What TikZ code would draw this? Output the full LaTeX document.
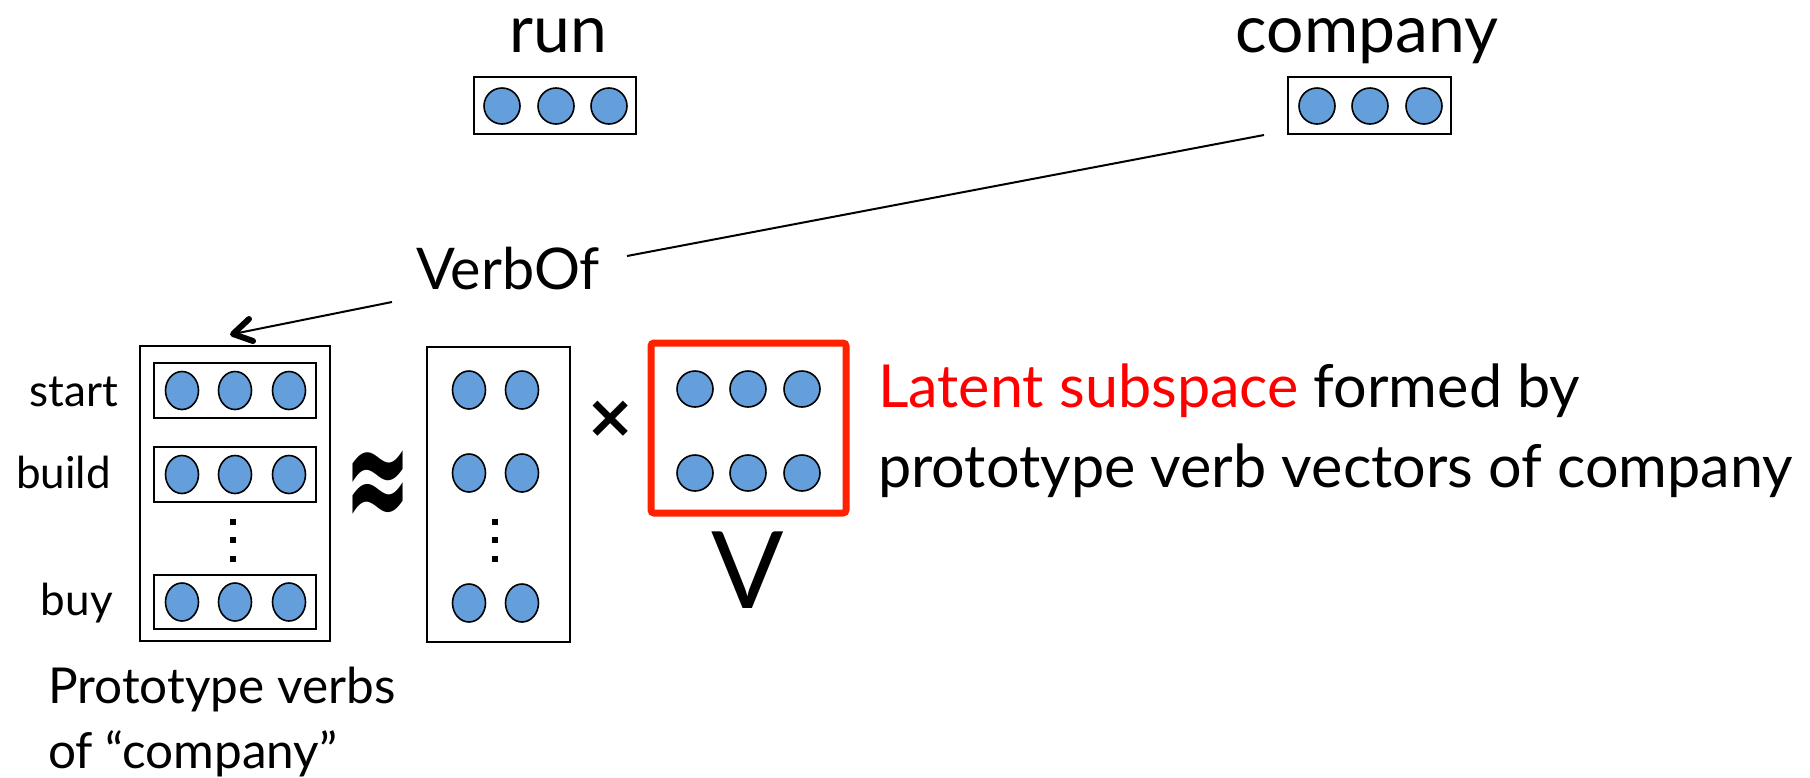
\documentclass[tikz,border=0pt]{standalone}
\usepackage{fontspec}
\setmainfont{Lato}
\newfontfamily\dvbold{DejaVu Sans}[BoldFont=* Bold]
\usetikzlibrary{arrows.meta,shapes.geometric,calc}
\definecolor{dotblue}{HTML}{649FDC}
\definecolor{boxred}{HTML}{FF2200}
\definecolor{txtred}{HTML}{FF0000}
\begin{document}
\begin{tikzpicture}[x=1pt,y=-1pt,
  vbox/.style={draw=black,line width=2pt,inner sep=0pt},
  rdot/.style={circle,draw=black,line width=1.6pt,fill=dotblue,minimum size=36pt,inner sep=0pt},
  edot/.style={ellipse,draw=black,line width=1.6pt,fill=dotblue,minimum width=33pt,minimum height=38pt,inner sep=0pt},
  sqdot/.style={fill=black,minimum size=6pt,inner sep=0pt},
  conn/.style={line width=2pt},
  barb/.style={line width=6pt,line cap=round,line join=round},
  bigtxt/.style={inner sep=0pt,font=\fontsize{66}{72}\selectfont},
  verbtxt/.style={inner sep=0pt,font=\fontsize{57.5}{64}\selectfont},
  midtxt/.style={inner sep=0pt,font=\fontsize{59.3}{66}\selectfont},
  lbltxt/.style={inner sep=0pt,font=\fontsize{44}{50}\selectfont},
  prototxt/.style={inner sep=0pt,font=\fontsize{49.5}{56}\selectfont},
]
\useasboundingbox (0,0) rectangle (1810,777);

% top words
\node[bigtxt,anchor=base] (run) at (558,52) {run};
\node[vbox,minimum width=162pt,minimum height=57pt] (runbox) at (555,105.5) {};
\foreach \x [count=\i] in {502,556,609} \node[rdot] (runc\i) at (\x,106) {};

\node[bigtxt,anchor=base] (company) at (1367,52) {company};
\node[vbox,minimum width=163pt,minimum height=57pt] (compbox) at (1369.5,105.5) {};
\foreach \x [count=\i] in {1317,1370,1424} \node[rdot] (compc\i) at (\x,106) {};

% VerbOf
\node[verbtxt,anchor=base] (verbof) at (508,289) {VerbOf};
\coordinate (vo-out) at (627,256);
\coordinate (co-in) at (1264,135);
\draw[conn] (vo-out) -- (co-in);

% prototype matrix
\node[vbox,minimum width=190pt,minimum height=295pt] (pbox) at (235,493.5) {};
\node[vbox,minimum width=162pt,minimum height=55pt] (startbox) at (235,390.5) {};
\node[vbox,minimum width=162pt,minimum height=55pt] (buildbox) at (235,474.5) {};
\node[vbox,minimum width=162pt,minimum height=54pt] (buybox) at (235,602) {};
\foreach \x [count=\i] in {182,235,289} {
  \node[edot] (sc\i) at (\x,390.5) {};
  \node[edot] (bc\i) at (\x,474.5) {};
  \node[edot] (yc\i) at (\x,602) {};
}
\foreach \y [count=\i] in {522,540,559} \node[sqdot] (pd\i) at (233,\y) {};

\node[lbltxt,anchor=base east] (start) at (118,406) {start};
\node[lbltxt,anchor=base east] (build) at (111,488) {build};
\node[lbltxt,anchor=base east] (buy) at (113,615) {buy};

\node[prototxt,anchor=base west] (proto1) at (48,703) {Prototype verbs};
\node[prototxt,anchor=base west] (proto2) at (48,768) {of “company”};

% arrow VerbOf -> prototype matrix
\coordinate (vo-in) at (392,302);
\coordinate (tip) at ($(pbox.north)+(-2,-11)$);
\draw[conn] (vo-in) -- (tip);
\draw[barb] ($(tip)+(20,7)$) -- (tip) -- ($(tip)+(16,-15)$);

% approx
\node[inner sep=0pt,font=\dvbold\bfseries\fontsize{80}{82}\selectfont] (approx) at (378,491) {\scalebox{1}[1.95]{≈}};

% middle matrix
\node[vbox,minimum width=143pt,minimum height=295pt] (ubox) at (498.5,494.5) {};
\foreach \x [count=\i] in {469,522} {
  \node[edot] (ua\i) at (\x,390) {};
  \node[edot] (ub\i) at (\x,473) {};
  \node[edot] (uc\i) at (\x,603) {};
}
\foreach \y [count=\i] in {522,540,559} \node[sqdot] (ud\i) at (495,\y) {};

% times
\node[inner sep=0pt,font=\dvbold\bfseries\fontsize{60}{62}\selectfont] (times) at (611,419) {×};

% V matrix
\node[draw=boxred,line width=7pt,rounded corners=3pt,minimum width=195pt,minimum height=170pt,inner sep=0pt] (vbox) at (748.5,428) {};
\foreach \x [count=\i] in {695,748,802} {
  \node[rdot] (va\i) at (\x,389) {};
  \node[rdot] (vb\i) at (\x,473) {};
}
\node[inner sep=0pt,anchor=base,font=\fontsize{107}{110}\selectfont] (V) at (748,608) {V};

% description
\node[midtxt,anchor=base west] (desc1) at (878,407) {\textcolor{txtred}{Latent subspace} formed by};
\node[midtxt,anchor=base west] (desc2) at (878,487) {prototype verb vectors of company};
\end{tikzpicture}
\end{document}
